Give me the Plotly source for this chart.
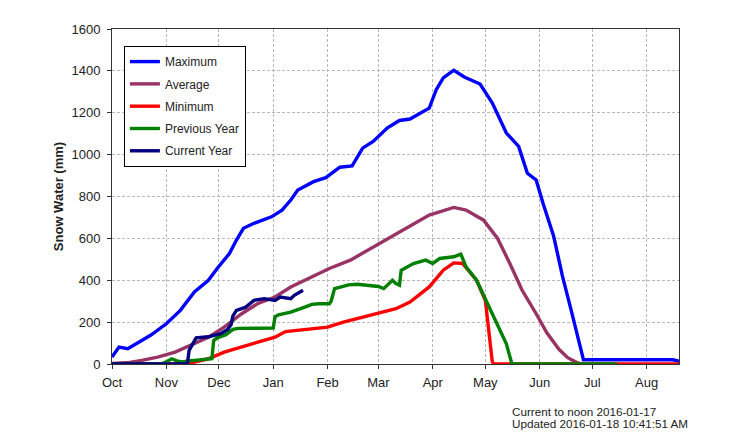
import pandas as pd
import plotly.graph_objects as go

START = "2015-10-01"

# day offsets from Oct 1 and snow water (mm)
max_days = [0, 4, 9, 15, 22, 31, 39, 47, 55, 60, 67, 71, 75, 81, 91, 97, 102, 106, 110, 115, 122, 130, 137,
            143, 149, 157, 164, 170, 181, 185, 189, 195, 201, 210, 217, 225, 232, 237, 242, 246, 252, 257,
            262, 266, 269, 300, 320, 324]
max_vals = [33, 81, 73, 104, 137, 192, 256, 344, 400, 456, 528, 592, 648, 672, 703, 735, 783, 831, 850, 871,
            890, 940, 946, 1031, 1063, 1127, 1163, 1170, 1222, 1310, 1366, 1403, 1371, 1337, 1246, 1103, 1039,
            911, 879, 765, 610, 420, 256, 113, 20, 20, 20, 12]

avg_days = [0, 10, 17, 26, 36, 45, 55, 64, 74, 83, 93, 102, 112, 124, 136, 153, 168, 181, 195, 202, 212,
            220, 227, 234, 242, 248, 255, 260, 265, 268]
avg_vals = [3, 8, 17, 33, 57, 89, 128, 176, 240, 288, 320, 368, 408, 456, 496, 576, 648, 711, 748, 735, 687,
            600, 480, 352, 240, 150, 70, 30, 8, 0]

min_days = [0, 38, 45, 55, 64, 74, 83, 93, 99, 104, 112, 123, 132, 136, 147, 162, 170, 181, 189, 195, 200,
            208, 213, 217, 218, 324]
min_vals = [0, 0, 5, 25, 57, 81, 105, 128, 155, 160, 168, 176, 200, 208, 232, 264, 296, 368, 448, 483, 480,
            400, 304, 9, 0, 0]

prev_days = [0, 28, 31, 34, 37, 40, 44, 48, 55, 57, 58, 60, 65, 69, 72, 92, 93, 95, 102, 106, 110, 114, 118,
             124, 125, 127, 131, 135, 140, 147, 152, 155, 158, 160, 162, 164, 165, 172, 179, 183, 187, 191,
             195, 199, 202, 208, 212, 216, 221, 225, 228, 229, 288]
prev_vals = [0, 0, 10, 25, 15, 10, 15, 17, 22, 25, 112, 125, 140, 165, 170, 172, 225, 235, 248, 262, 272, 285,
             288, 288, 300, 360, 371, 378, 381, 376, 370, 360, 385, 400, 384, 376, 448, 480, 496, 480, 504,
             508, 512, 525, 464, 400, 328, 256, 160, 96, 5, 0, 0]

cur_days = [0, 43, 44, 46, 48, 55, 62, 66, 68, 69, 71, 76, 79, 81, 87, 90, 93, 96, 102, 104, 107, 109]
cur_vals = [0, 0, 65, 97, 125, 130, 145, 165, 190, 230, 256, 270, 290, 304, 312, 310, 304, 320, 312, 328,
            344, 352]

month_ticks = ["2015-10-01", "2015-11-01", "2015-12-01", "2016-01-01", "2016-02-01", "2016-03-01",
               "2016-04-01", "2016-05-01", "2016-06-01", "2016-07-01", "2016-08-01"]
month_labels = ["Oct", "Nov", "Dec", "Jan", "Feb", "Mar", "Apr", "May", "Jun", "Jul", "Aug"]
y_ticks = [0, 200, 400, 600, 800, 1000, 1200, 1400, 1600]

notes = ["Current to noon 2016-01-17", "Updated 2016-01-18 10:41:51 AM"]


def to_dates(days):
    return pd.Timestamp(START) + pd.to_timedelta(days, unit="D")


series = [
    ("Maximum", max_days, max_vals, "#0000FF"),
    ("Average", avg_days, avg_vals, "#993366"),
    ("Minimum", min_days, min_vals, "#FF0000"),
    ("Previous Year", prev_days, prev_vals, "#008000"),
    ("Current Year", cur_days, cur_vals, "#000080"),
]

fig = go.Figure()
for i, (name, d, v, c) in enumerate(series):
    fig.add_trace(go.Scatter(x=to_dates(d), y=v, mode="lines", name=name,
                             legendgroup=f"g{i}",
                             line=dict(color=c, width=3.4)))

FONT = "Arial, Liberation Sans, sans-serif"

fig.update_layout(
    width=750, height=440,
    margin=dict(l=104, r=79, t=21, b=84),
    paper_bgcolor="white", plot_bgcolor="white",
    font=dict(family=FONT, size=13, color="#222222"),
    legend=dict(x=0.021, y=0.949, xanchor="left", yanchor="top",
                bordercolor="#000000", borderwidth=1, bgcolor="white",
                font=dict(size=12, color="#222222"), tracegroupgap=3.3,
                itemwidth=30),
    xaxis=dict(type="date", range=["2015-10-01", "2016-08-19 12:00"],
               tickvals=month_ticks, ticktext=month_labels,
               showgrid=True, gridcolor="#b8b8b8", griddash="3px,2px", gridwidth=1,
               showline=True, linecolor="#333333", linewidth=1, mirror=True,
               ticks="outside", ticklen=4, tickcolor="#333333", ticklabelstandoff=2,
               tickfont=dict(size=13, color="#222222")),
    yaxis=dict(range=[0, 1600], tickvals=y_ticks,
               showgrid=True, gridcolor="#b8b8b8", griddash="3px,2px", gridwidth=1,
               showline=True, linecolor="#333333", linewidth=1, mirror=True,
               ticks="outside", ticklen=4, tickcolor="#333333", ticklabelstandoff=4,
               tickfont=dict(size=13, color="#222222"),
               zeroline=False,
               title=dict(text="<b>Snow Water (mm)</b>", standoff=4,
                          font=dict(size=13, color="#222222"))),
)

for k, t in enumerate(notes):
    fig.add_annotation(text=t, xref="paper", yref="paper", x=0.702, y=-0.143 - k * 0.036,
                       xanchor="left", yanchor="middle", showarrow=False,
                       font=dict(size=11.7, color="#222222"))

fig.write_html("out.html")
